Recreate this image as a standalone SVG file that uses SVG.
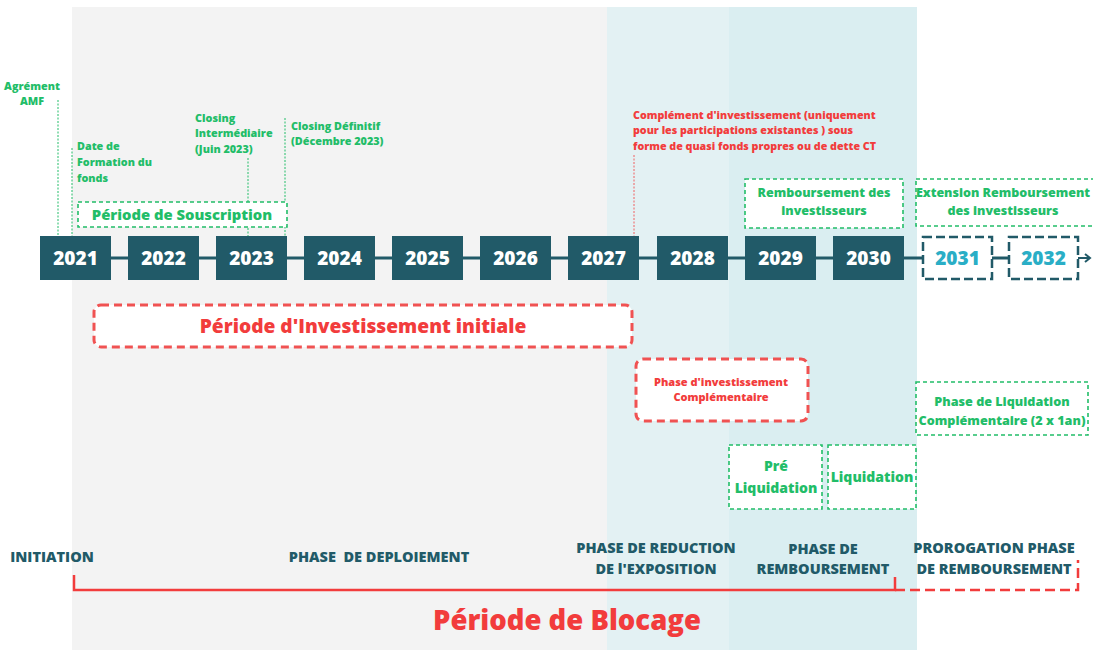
<svg xmlns="http://www.w3.org/2000/svg" width="1093" height="650" viewBox="0 0 1093 650">
<style>
text{font-family:"Open Sans","Liberation Sans",sans-serif;font-weight:800}
.yr{fill:#215a68}
.yt{fill:#fff;font-size:19px;text-anchor:middle}
.yd{fill:#fff;stroke:#215a68;stroke-width:2.5;stroke-dasharray:9 4}
.ydt{fill:#2aaec6;font-size:19px;text-anchor:middle}
.g{fill:#22bd68}
.gb{fill:#fff;stroke:#22bd68;stroke-width:1.6;stroke-dasharray:4 3}
.gl{stroke:#22bd68;stroke-width:1;stroke-dasharray:2 1.5;fill:none}
.r{fill:#f23c3c}
.rb{fill:#fff;stroke:#f05252;stroke-width:3;stroke-dasharray:8 5}
.ph{fill:#215a68;font-size:14.5px;text-anchor:middle}
.c{text-anchor:middle}
</style>
<rect width="1093" height="650" fill="#fff"/>
<rect x="72" y="7" width="535" height="643" fill="#f3f3f3"/>
<rect x="607" y="7" width="122" height="643" fill="#e3f1f3"/>
<rect x="729" y="7" width="188" height="643" fill="#daeef1"/>

<g id="connectors">
<line x1="111" y1="258" x2="922" y2="258" stroke="#215a68" stroke-width="3"/>
<line x1="992" y1="258" x2="1008" y2="258" stroke="#215a68" stroke-width="3"/>
<line x1="1078" y1="258" x2="1089" y2="258" stroke="#215a68" stroke-width="2"/>
<path d="M1085 254 L1090 258 L1085 262" fill="none" stroke="#215a68" stroke-width="2"/>
<line class="gl" x1="58" y1="100" x2="58" y2="236"/>
<line class="gl" x1="72" y1="148" x2="72" y2="236"/>
<line class="gl" x1="248" y1="158" x2="248" y2="236"/>
<line class="gl" x1="285" y1="118" x2="285" y2="236"/>
<line x1="634" y1="155" x2="634" y2="236" stroke="#f06060" stroke-width="1" stroke-dasharray="2 1.5"/>
<path d="M74 575 V590 H895 V577" fill="none" stroke="#f23c3c" stroke-width="2.5"/>
<path d="M895 590 H1078 V560" fill="none" stroke="#f23c3c" stroke-width="2.5" stroke-dasharray="10 5"/>
</g>

<g id="y2021"><rect class="yr" x="40" y="236" width="71" height="44"/><text class="yt" x="75.5" y="265">2021</text></g>
<g id="y2022"><rect class="yr" x="128" y="236" width="71" height="44"/><text class="yt" x="163.5" y="265">2022</text></g>
<g id="y2023"><rect class="yr" x="216" y="236" width="71" height="44"/><text class="yt" x="251.5" y="265">2023</text></g>
<g id="y2024"><rect class="yr" x="304" y="236" width="71" height="44"/><text class="yt" x="339.5" y="265">2024</text></g>
<g id="y2025"><rect class="yr" x="392" y="236" width="71" height="44"/><text class="yt" x="427.5" y="265">2025</text></g>
<g id="y2026"><rect class="yr" x="480" y="236" width="71" height="44"/><text class="yt" x="515.5" y="265">2026</text></g>
<g id="y2027"><rect class="yr" x="568" y="236" width="71" height="44"/><text class="yt" x="603.5" y="265">2027</text></g>
<g id="y2028"><rect class="yr" x="657" y="236" width="71" height="44"/><text class="yt" x="692.5" y="265">2028</text></g>
<g id="y2029"><rect class="yr" x="745" y="236" width="71" height="44"/><text class="yt" x="780.5" y="265">2029</text></g>
<g id="y2030"><rect class="yr" x="833" y="236" width="71" height="44"/><text class="yt" x="868.5" y="265">2030</text></g>
<g id="y2031"><rect class="yd" x="923" y="237" width="69" height="42"/><text class="ydt" x="957.5" y="265">2031</text></g>
<g id="y2032"><rect class="yd" x="1009" y="237" width="69" height="42"/><text class="ydt" x="1043.5" y="265">2032</text></g>

<g id="agrement" font-size="10.8"><text class="g c" x="32" y="90">Agrément</text><text class="g c" x="32" y="105">AMF</text></g>
<g id="formation" font-size="10.8"><text class="g" x="77" y="150">Date de</text><text class="g" x="77" y="166">Formation du</text><text class="g" x="77" y="182">fonds</text></g>
<g id="closing1" font-size="10.8"><text class="g" x="195" y="122">Closing</text><text class="g" x="195" y="137">Intermédiaire</text><text class="g" x="195" y="153">(Juin 2023)</text></g>
<g id="closing2" font-size="10.8"><text class="g" x="291" y="130">Closing Définitif</text><text class="g" x="291" y="145">(Décembre 2023)</text></g>
<g id="souscription"><rect class="gb" x="78" y="202" width="209" height="25"/><text class="g c" x="182" y="220" font-size="14.8">Période de Souscription</text></g>
<g id="complement" font-size="10.7"><text class="r" x="633" y="119">Complément d'investissement (uniquement</text><text class="r" x="633" y="134">pour les participations existantes ) sous</text><text class="r" x="633" y="150">forme de quasi fonds propres ou de dette CT</text></g>
<g id="remb" font-size="12.5"><rect class="gb" x="745" y="179" width="158" height="49"/><text class="g c" x="824" y="197">Remboursement des</text><text class="g c" x="824" y="215">investisseurs</text></g>
<g id="extension" font-size="12.5"><rect class="gb" x="916" y="179" width="180" height="47"/><text class="g c" x="1003" y="197">Extension Remboursement</text><text class="g c" x="1003" y="215">des investisseurs</text></g>
<g id="invinit"><rect class="rb" x="94" y="305" width="538" height="42" rx="7"/><text class="r c" font-size="19.2" x="363" y="333">Période d'Investissement initiale</text></g>
<g id="invcomp" font-size="11"><rect class="rb" x="636" y="359" width="172" height="62" rx="7"/><text class="r c" x="721" y="386">Phase d'investissement</text><text class="r c" x="721" y="401">Complémentaire</text></g>
<g id="liqcomp" font-size="12.6"><rect class="gb" x="916" y="382" width="172" height="53"/><text class="g c" x="1002" y="406">Phase de Liquidation</text><text class="g c" x="1002" y="425">Complémentaire (2 x 1an)</text></g>
<g id="preliq" font-size="14"><rect class="gb" x="729" y="445" width="93" height="64"/><text class="g c" x="776" y="471">Pré</text><text class="g c" x="776" y="493">Liquidation</text></g>
<g id="liq" font-size="14"><rect class="gb" x="828" y="445" width="88" height="64"/><text class="g c" x="872" y="482">Liquidation</text></g>

<g id="phases">
<text class="ph" x="52" y="562">INITIATION</text>
<text class="ph" x="379" y="562" xml:space="preserve">PHASE  DE DEPLOIEMENT</text>
<text class="ph" x="656" y="553">PHASE DE REDUCTION</text><text class="ph" x="656" y="574">DE l'EXPOSITION</text>
<text class="ph" x="823" y="554">PHASE DE</text><text class="ph" x="823" y="574">REMBOURSEMENT</text>
<text class="ph" x="994" y="553">PROROGATION PHASE</text><text class="ph" x="994" y="574">DE REMBOURSEMENT</text>
</g>
<g id="blocage"><text class="r c" font-size="27.5" x="567" y="630">Période de Blocage</text></g>
</svg>
